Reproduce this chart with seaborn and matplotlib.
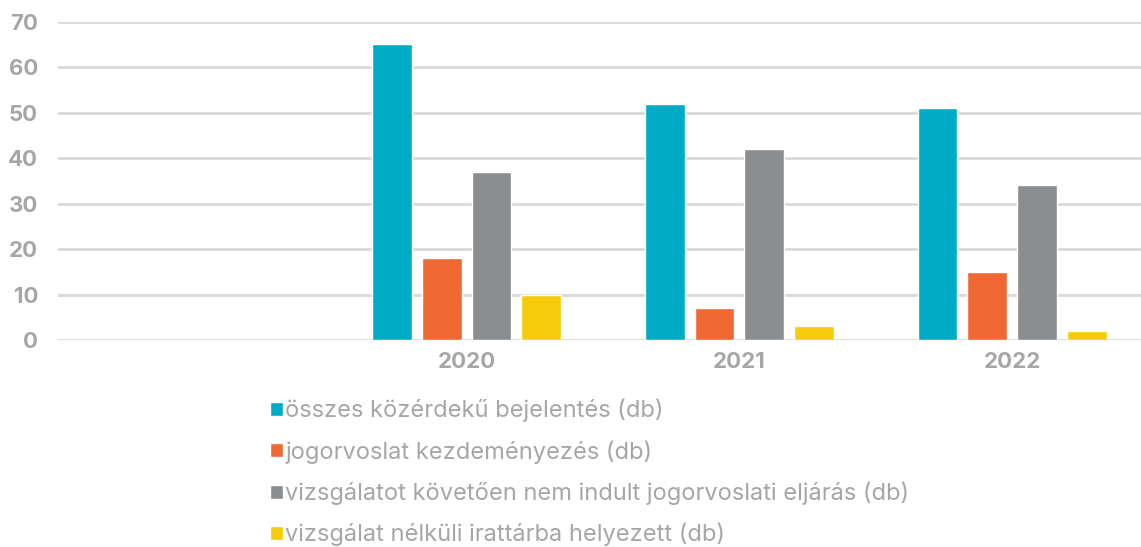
import matplotlib
matplotlib.use("Agg")
import matplotlib.pyplot as plt
import seaborn as sns
import pandas as pd

years = ["2020", "2021", "2022"]
series = [
    "összes közérdekű bejelentés (db)",
    "jogorvoslat kezdeményezés (db)",
    "vizsgálatot követően nem indult jogorvoslati eljárás (db)",
    "vizsgálat nélküli irattárba helyezett (db)",
]
osszes = [65, 52, 51]
jogorvoslat = [18, 7, 15]
nem_indult = [37, 42, 34]
irattar = [10, 3, 2]
colors = ["#00abc5", "#f06934", "#8a8e91", "#f5cb0c"]
y_ticks = [0, 10, 20, 30, 40, 50, 60, 70]

rows = []
for s, vals in zip(series, [osszes, jogorvoslat, nem_indult, irattar]):
    for y, v in zip(years, vals):
        rows.append({"year": y, "series": s, "value": v})
df = pd.DataFrame(rows)

sns.set_theme(style="white")
plt.rcParams["font.family"] = ["Inter", "DejaVu Sans"]

W, H = 1141, 547
fig = plt.figure(figsize=(W / 100, H / 100), dpi=100)
left = 57.5 / W
bottom = (H - 340) / H
top = (H - 21.7) / H
ax = fig.add_axes([left, bottom, 1 - left, top - bottom])

order = [""] + years
sns.barplot(data=df, x="year", y="value", hue="series", order=order,
            hue_order=series, palette=colors, width=0.73, gap=0.2,
            saturation=1, ax=ax, zorder=3)

ax.set_xlim(-0.5, -0.5 + (W - 57.5) / 272.75)
ax.set_ylim(0, 70)
ax.set_yticks(y_ticks)
ax.yaxis.grid(True, color="#d9d9d9", linewidth=2, zorder=0)
ax.set_axisbelow(True)
for sp in ax.spines.values():
    sp.set_visible(False)
ax.set_xlabel("")
ax.set_ylabel("")
ax.tick_params(axis="y", length=0, pad=14, labelsize=16, labelcolor="#a6a6a6")
ax.tick_params(axis="x", length=0, pad=9, labelsize=16, labelcolor="#a6a6a6")
for lab in ax.get_yticklabels() + ax.get_xticklabels():
    lab.set_fontweight("bold")

handles, labels = ax.get_legend_handles_labels()
ax.get_legend().remove()
leg = fig.legend(handles, labels, loc="upper left",
                 bbox_to_anchor=(270 / W, 1 - 399 / H), frameon=False,
                 fontsize=17, handlelength=0.53, handleheight=0.53,
                 handletextpad=0.12, labelspacing=0.75, borderpad=0,
                 borderaxespad=0)
for t in leg.get_texts():
    t.set_color("#a6a6a6")

fig.savefig("out.png", dpi=100)
